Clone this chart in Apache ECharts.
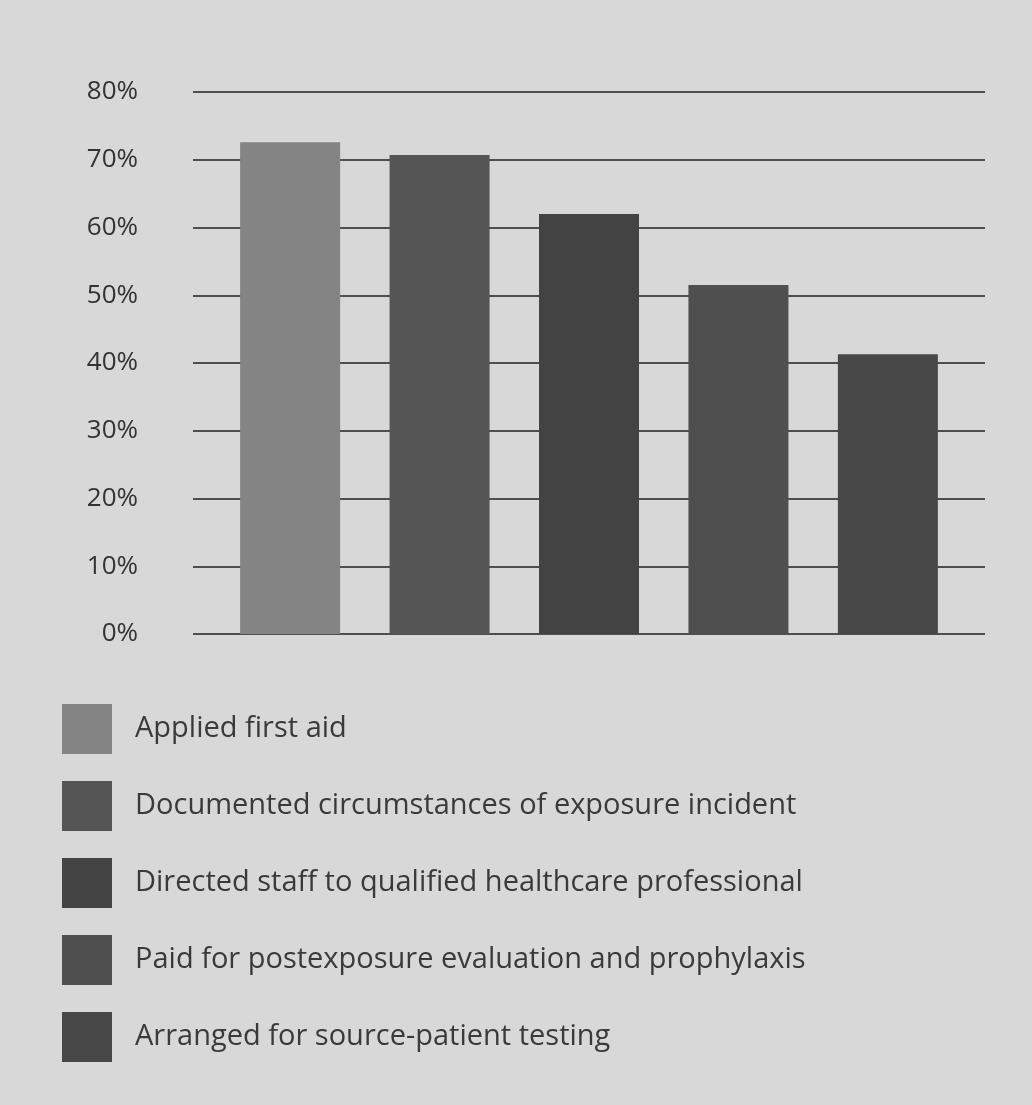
<!DOCTYPE html>
<html>
<head>
<meta charset="utf-8">
<script src="https://cdn.jsdelivr.net/npm/echarts@6/dist/echarts.min.js"></script>
<style>
  html, body { margin: 0; padding: 0; background: #d8d8d8; }
  #chart { width: 1032px; height: 1105px; }
</style>
</head>
<body>
<div id="chart"></div>
<script>
// responses, in percent, one bar per action
const categories = [
    "Applied first aid",
    "Documented circumstances of exposure incident",
    "Directed staff to qualified healthcare professional",
    "Paid for postexposure evaluation and prophylaxis",
    "Arranged for source-patient testing"
]
const values = [72.6, 70.7, 62.0, 51.5, 41.3]
const colors = ["#848484", "#555555", "#434343", "#4f4f4f", "#474747"]
const yTicks = [0, 10, 20, 30, 40, 50, 60, 70, 80]

const font = "'Open Sans', sans-serif"

const chart = echarts.init(document.getElementById("chart"), null, { renderer: "canvas" })

const series = categories.map((name, i) => ({
    name: name,
    type: "bar",
    barWidth: 100,
    barGap: "-100%",
    itemStyle: { color: colors[i] },
    data: [[i, values[i]]]
}))

chart.setOption({
    backgroundColor: "#d8d8d8",
    animation: false,
    grid: { left: 193, right: 47, top: 92, bottom: 471 },
    xAxis: {
        type: "value",
        min: -0.65,
        max: categories.length - 1 + 0.65,
        show: false
    },
    yAxis: {
        type: "value",
        min: yTicks[0],
        max: yTicks[yTicks.length - 1],
        interval: yTicks[1] - yTicks[0],
        axisLine: { show: false },
        axisTick: { show: false },
        axisLabel: {
            formatter: "{value}%",
            margin: 55,
            color: "#333",
            fontFamily: font,
            fontSize: 26
        },
        splitLine: { lineStyle: { color: "#4e4e4e", width: 2 } }
    },
    legend: {
        orient: "vertical",
        left: 57,
        top: 699,
        itemWidth: 50,
        itemHeight: 50,
        itemGap: 27,
        icon: "rect",
        selectedMode: false,
        textStyle: {
            color: "#3a3a3a",
            fontFamily: font,
            fontSize: 29,
            padding: [4, 0, 0, 18]
        },
        data: categories
    },
    series: series
})
</script>
</body>
</html>
